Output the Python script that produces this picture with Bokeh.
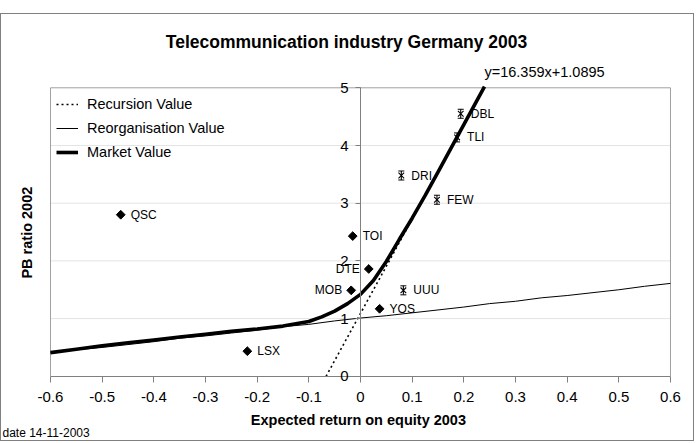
import numpy as np
from bokeh.plotting import figure
from bokeh.models import (FixedTicker, Label, Legend, LegendItem,
                          ColumnDataSource, Spacer)
from bokeh.layouts import column
from bokeh.core.properties import value
from bokeh.embed import file_html
from bokeh.resources import INLINE

FONT = "Liberation Sans"

title_text = "Telecommunication industry Germany 2003"
x_title = "Expected return on equity 2003"
y_title = "PB ratio 2002"
date_text = "date 14-11-2003"

x_ticks = [-0.6, -0.5, -0.4, -0.3, -0.2, -0.1, 0.0, 0.1, 0.2, 0.3, 0.4, 0.5, 0.6]
x_tick_labels = ["-0.6", "-0.5", "-0.4", "-0.3", "-0.2", "-0.1", "0",
                 "0.1", "0.2", "0.3", "0.4", "0.5", "0.6"]
y_ticks = [0, 1, 2, 3, 4, 5]
grid_levels = [1, 2, 3, 4]
x_lo, x_hi = -0.6, 0.6
y_lo, y_hi = 0, 5

# Recursion value: linear trend  y = slope * x + intercept
slope = 16.359
intercept = 1.0895
trend_label = "y=16.359x+1.0895"
recursion_y = [0.0, 5.0]
recursion_x = [(v - intercept) / slope for v in recursion_y]

# Reorganisation value
reorg_x = [-0.60, -0.55, -0.50, -0.45, -0.40, -0.35, -0.30, -0.25, -0.20,
           -0.15, -0.10, -0.05, 0.00, 0.05, 0.10, 0.15, 0.20, 0.25, 0.30,
           0.35, 0.40, 0.45, 0.50, 0.55, 0.60]
reorg_y = [0.41, 0.46, 0.50, 0.55, 0.60, 0.66, 0.70, 0.75, 0.80,
           0.86, 0.90, 0.96, 1.01, 1.05, 1.10, 1.15, 1.20, 1.26, 1.30,
           1.36, 1.40, 1.45, 1.50, 1.56, 1.61]

# Market value
market_x = [-0.60, -0.55, -0.50, -0.45, -0.40, -0.35, -0.30, -0.25, -0.20,
            -0.15, -0.10, -0.075, -0.05, -0.025, 0.00, 0.025, 0.05, 0.075,
            0.10, 0.125, 0.15, 0.175, 0.20, 0.24]
market_y = [0.41, 0.47, 0.53, 0.58, 0.63, 0.68, 0.73, 0.78, 0.82,
            0.87, 0.95, 1.03, 1.13, 1.26, 1.42, 1.66, 1.99, 2.37,
            2.74, 3.13, 3.54, 3.95, 4.36, 5.02]

# Companies shown with diamonds
dia_names = ["QSC", "LSX", "TOI", "DTE", "MOB", "YOS"]
dia_x = [-0.464, -0.219, -0.015, 0.016, -0.018, 0.037]
dia_y = [2.80, 0.435, 2.43, 1.86, 1.49, 1.17]
dia_side = ["right", "right", "right", "left", "left", "right"]

# Companies shown with stars
star_names = ["DBL", "TLI", "DRI", "FEW", "UUU"]
star_x = [0.194, 0.187, 0.079, 0.148, 0.083]
star_y = [4.55, 4.14, 3.48, 3.06, 1.49]

# The frame fills the whole canvas; the ranges leave room for titles and
# tick labels around the [-0.6, 0.6] x [0, 5] plotting area.
p = figure(width=694, height=428, x_range=(-0.6948, 0.6484),
           y_range=(-1.1473, 6.2704), output_backend="svg",
           toolbar_location=None, min_border=0)
p.styles = {"border": "1px solid #808080"}
p.outline_line_color = None
p.background_fill_color = "white"
p.border_fill_color = "white"
p.xgrid.grid_line_color = None
p.ygrid.grid_line_color = None

# horizontal gridlines and plotting-area border
p.segment(x0=[x_lo] * len(grid_levels), y0=grid_levels,
          x1=[x_hi] * len(grid_levels), y1=grid_levels,
          line_color="#e4e4e4", line_width=1)
p.segment(x0=[x_lo, x_lo, x_hi], y0=[y_hi, y_lo, y_lo],
          x1=[x_hi, x_lo, x_hi], y1=[y_hi, y_hi, y_hi],
          line_color="#a0a0a0", line_width=1)

# x axis along y = 0
xa = p.xaxis[0]
xa.fixed_location = 0
xa.bounds = (x_lo, x_hi)
xa.ticker = FixedTicker(ticks=x_ticks)
xa.major_label_overrides = dict(zip(x_ticks, x_tick_labels))
xa.minor_tick_line_color = None
xa.major_tick_in = 0
xa.major_tick_out = 6
xa.major_label_standoff = 10
xa.axis_line_color = "#808080"
xa.major_tick_line_color = "#808080"
xa.major_label_text_font = FONT
xa.major_label_text_font_size = "15px"
xa.major_label_text_color = "black"

# y axis crossing at x = 0
ya = p.yaxis[0]
ya.fixed_location = 0
ya.bounds = (y_lo, y_hi)
ya.ticker = FixedTicker(ticks=y_ticks)
ya.minor_tick_line_color = None
ya.major_tick_in = 0
ya.major_tick_out = 5
ya.major_label_standoff = 7
ya.axis_line_color = "#808080"
ya.major_tick_line_color = "#808080"
ya.major_label_text_font = FONT
ya.major_label_text_font_size = "15px"
ya.major_label_text_color = "black"

r_reorg = p.line(reorg_x, reorg_y, line_color="black", line_width=1)
r_rec = p.line(recursion_x, recursion_y, line_color="black", line_width=1.6,
               line_dash="2 3")
r_mkt = p.line(market_x, market_y, line_color="black", line_width=3.6)

# diamond markers and their names
dia_src = ColumnDataSource(dict(x=dia_x, y=dia_y, name=dia_names, side=dia_side))
p.scatter("x", "y", source=dia_src, marker="square", angle=np.pi / 4,
          size=6.2, fill_color="black", line_color="black")
right_idx = [i for i, s in enumerate(dia_side) if s == "right"]
left_idx = [i for i, s in enumerate(dia_side) if s == "left"]
p.text([dia_x[i] for i in right_idx], [dia_y[i] for i in right_idx],
       text=[dia_names[i] for i in right_idx], x_offset=10,
       text_align="left", text_baseline="middle", text_font=value(FONT),
       text_font_size="12px", text_color="black")
p.text([dia_x[i] for i in left_idx], [dia_y[i] for i in left_idx],
       text=[dia_names[i] for i in left_idx], x_offset=-9,
       text_align="right", text_baseline="middle", text_font=value(FONT),
       text_font_size="12px", text_color="black")

# star markers: crossed diagonals, a vertical stroke and short caps
cap = 4.5 / 57.7
p.scatter(star_x, star_y, marker="x", size=8, line_color="black", line_width=1.1)
p.scatter(star_x, star_y, marker="dash", angle=np.pi / 2, size=9,
          line_color="black", line_width=1.1)
p.scatter(star_x, [v + cap for v in star_y], marker="dash", size=6,
          line_color="black", line_width=1)
p.scatter(star_x, [v - cap for v in star_y], marker="dash", size=6,
          line_color="black", line_width=1)
p.text(star_x, star_y, text=star_names, x_offset=10, text_align="left",
       text_baseline="middle", text_font=value(FONT), text_font_size="12px",
       text_color="black")

legend = Legend(items=[LegendItem(label="Recursion Value", renderers=[r_rec]),
                       LegendItem(label="Reorganisation Value", renderers=[r_reorg]),
                       LegendItem(label="Market Value", renderers=[r_mkt])],
                location=(55, 279), margin=0, padding=0, spacing=2,
                glyph_width=22, glyph_height=22, label_height=22,
                label_standoff=9, background_fill_alpha=0,
                border_line_color=None, label_text_font=FONT,
                label_text_font_size="14.5px", label_text_color="black")
p.add_layout(legend)

# titles and notes
p.add_layout(Label(x=-0.027, y=5.80, text=title_text, text_align="center",
                   text_baseline="middle", text_font=FONT,
                   text_font_size="17.5px", text_font_style="bold",
                   text_color="black"))
p.add_layout(Label(x=-0.004, y=-0.749, text=x_title, text_align="center",
                   text_baseline="middle", text_font=FONT,
                   text_font_size="14.5px", text_font_style="bold",
                   text_color="black"))
p.add_layout(Label(x=-0.6445, y=2.49, text=y_title, angle=np.pi / 2,
                   text_align="center", text_baseline="middle",
                   text_font=FONT, text_font_size="14.5px",
                   text_font_style="bold", text_color="black"))
p.add_layout(Label(x=-0.6929, y=-0.991, text=date_text, text_align="left",
                   text_baseline="middle", text_font=FONT,
                   text_font_size="12px", text_color="black"))
p.add_layout(Label(x=0.24, y=5.27, text=trend_label, text_align="left",
                   text_baseline="middle", text_font=FONT,
                   text_font_size="14.5px", text_color="black"))

layout = column(Spacer(width=696, height=13), p, spacing=0)
open("out.html", "w").write(file_html(layout, INLINE))
